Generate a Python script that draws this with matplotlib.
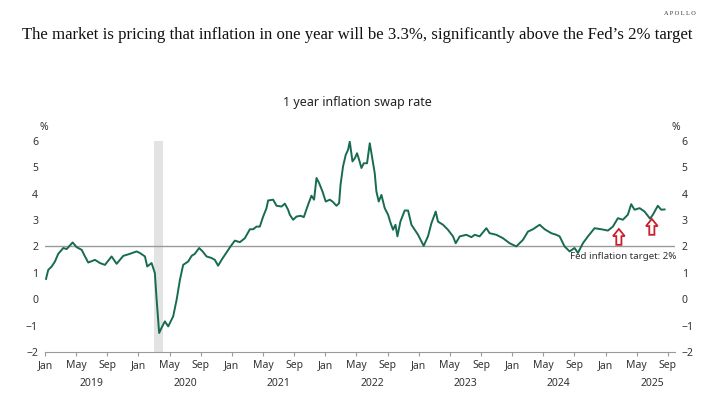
import matplotlib
matplotlib.use("Agg")
import matplotlib.pyplot as plt
import matplotlib.transforms as mtransforms
from matplotlib.patches import FancyArrow

# 1 year inflation swap rate, x in decimal years
t_year = [
    2019.011, 2019.035, 2019.072, 2019.107, 2019.142, 2019.196, 2019.232, 2019.296,
    2019.339, 2019.393, 2019.428, 2019.463, 2019.535, 2019.588, 2019.642, 2019.713,
    2019.767, 2019.837, 2019.909, 2019.981, 2020.016, 2020.070, 2020.094, 2020.141,
    2020.176, 2020.195, 2020.222, 2020.248, 2020.283, 2020.319, 2020.372, 2020.409,
    2020.444, 2020.479, 2020.533, 2020.569, 2020.604, 2020.650, 2020.687, 2020.729,
    2020.783, 2020.818, 2020.853, 2020.890, 2020.943, 2020.986, 2021.032, 2021.086,
    2021.139, 2021.193, 2021.228, 2021.264, 2021.299, 2021.335, 2021.371, 2021.388,
    2021.442, 2021.478, 2021.532, 2021.567, 2021.602, 2021.620, 2021.656, 2021.692,
    2021.735, 2021.770, 2021.816, 2021.852, 2021.880, 2021.906, 2021.934, 2021.970,
    2022.005, 2022.048, 2022.077, 2022.120, 2022.148, 2022.163, 2022.190, 2022.219,
    2022.244, 2022.262, 2022.291, 2022.316, 2022.340, 2022.362, 2022.387, 2022.412,
    2022.447, 2022.476, 2022.505, 2022.529, 2022.547, 2022.572, 2022.601, 2022.636,
    2022.672, 2022.697, 2022.725, 2022.751, 2022.772, 2022.804, 2022.850, 2022.886,
    2022.922, 2022.957, 2022.993, 2023.053, 2023.099, 2023.136, 2023.182, 2023.206,
    2023.260, 2023.313, 2023.367, 2023.396, 2023.439, 2023.510, 2023.564, 2023.599,
    2023.652, 2023.724, 2023.759, 2023.831, 2023.902, 2023.973, 2024.045, 2024.116,
    2024.169, 2024.222, 2024.294, 2024.348, 2024.419, 2024.473, 2024.508, 2024.561,
    2024.615, 2024.668, 2024.704, 2024.757, 2024.811, 2024.882, 2024.954, 2025.025,
    2025.078, 2025.132, 2025.185, 2025.238, 2025.274, 2025.310, 2025.364, 2025.417,
    2025.476, 2025.506, 2025.559, 2025.595, 2025.631,
]
swap_rate = [
    0.77, 1.11, 1.24, 1.43, 1.72, 1.94, 1.90, 2.15,
    1.97, 1.87, 1.62, 1.39, 1.49, 1.37, 1.30, 1.62,
    1.34, 1.64, 1.72, 1.81, 1.75, 1.62, 1.24, 1.37,
    0.99, -0.02, -1.28, -1.08, -0.84, -1.03, -0.65, -0.02,
    0.73, 1.30, 1.43, 1.64, 1.72, 1.94, 1.81, 1.62,
    1.56, 1.49, 1.27, 1.49, 1.77, 2.00, 2.22, 2.16,
    2.31, 2.65, 2.65, 2.75, 2.75, 3.13, 3.45, 3.74,
    3.77, 3.54, 3.51, 3.62, 3.39, 3.20, 3.01, 3.13,
    3.16, 3.11, 3.58, 3.92, 3.77, 4.59, 4.40, 4.08,
    3.70, 3.77, 3.70, 3.54, 3.64, 4.33, 5.03, 5.47,
    5.66, 5.97, 5.22, 5.34, 5.53, 5.28, 4.97, 5.15,
    5.15, 5.91, 5.28, 4.78, 4.08, 3.70, 3.95, 3.45,
    3.20, 2.91, 2.63, 2.82, 2.38, 2.94, 3.36, 3.36,
    2.82, 2.63, 2.44, 2.02, 2.38, 2.88, 3.32, 2.94,
    2.82, 2.63, 2.38, 2.12, 2.38, 2.44, 2.35, 2.44,
    2.38, 2.69, 2.50, 2.44, 2.31, 2.12, 2.00, 2.25,
    2.56, 2.65, 2.82, 2.65, 2.50, 2.44, 2.38, 2.00,
    1.81, 1.94, 1.75, 2.12, 2.38, 2.69, 2.65, 2.60,
    2.75, 3.07, 3.01, 3.20, 3.60, 3.39, 3.45, 3.32,
    3.05, 3.20, 3.54, 3.39, 3.40,
]

years = [2019, 2020, 2021, 2022, 2023, 2024, 2025]
month_names = {1: 'Jan', 5: 'May', 9: 'Sep'}
recession = (2020.163, 2020.262)
fed_target = 2
arrow_x = [2025.142, 2025.495]
arrow_base = [2.06, 2.44]

line_color = '#176b52'
grey = '#9a9a9a'
text_color = '#333333'
sans = ['Noto Sans', 'DejaVu Sans']

fig = plt.figure(figsize=(7.14, 3.94), dpi=100)
ax = fig.add_axes([0.063, 0.1066, 0.882, 0.536])

ax.axvspan(recession[0], recession[1], ymin=0, ymax=1, color='#e3e3e3', lw=0, zorder=0)
ax.axhline(fed_target, color=grey, lw=1, zorder=1)
ax.plot(t_year, swap_rate, color=line_color, lw=1.4, zorder=3)

# red hollow arrows
for xa, ya in zip(arrow_x, arrow_base):
    ax.add_patch(FancyArrow(xa, ya, 0, 0.6, width=0.055, head_width=0.125, head_length=0.27,
                            length_includes_head=True, fc='white', ec='#c8202f', lw=1.3, zorder=4))

ax.set_xlim(2019.0, 2025.74)
ax.set_ylim(-2, 6)

ticks, labels = [], []
for y in years:
    for m in (1, 5, 9):
        ticks.append(y + (m - 1) / 12)
        labels.append(month_names[m])
ax.set_xticks(ticks, labels)
ax.set_yticks(range(-2, 7))
ax.tick_params(axis='x', length=3, color=grey, labelsize=7.5, labelcolor=text_color, pad=3)
ax.tick_params(axis='y', length=0, labelsize=7.5, labelcolor=text_color, pad=5,
               labelleft=True, labelright=True)
for lab in ax.get_xticklabels() + ax.get_yticklabels():
    lab.set_family(sans)

for s in ['top', 'left', 'right']:
    ax.spines[s].set_visible(False)
ax.spines['bottom'].set_color(grey)

trans_x = mtransforms.blended_transform_factory(ax.transData, ax.transAxes)
trans_y = mtransforms.blended_transform_factory(ax.transAxes, ax.transData)
for y in years:
    ax.text(y + 0.5, -0.125, str(y), transform=trans_x, ha='center', va='top',
            fontsize=7.5, color=text_color, family=sans)

ax.text(-0.002, 1.065, '%', transform=ax.transAxes, ha='center', va='center',
        fontsize=7.5, color=text_color, family=sans)
ax.text(1.002, 1.065, '%', transform=ax.transAxes, ha='center', va='center',
        fontsize=7.5, color=text_color, family=sans)
ax.text(1.003, 1.62, 'Fed inflation target: 2%', transform=trans_y, ha='right', va='center',
        fontsize=7, color=text_color, family=sans)

fig.text(0.5, 0.739, '1 year inflation swap rate', ha='center', va='center',
         fontsize=9, color='#222222', family=sans)
fig.text(0.5, 0.912, "The market is pricing that inflation in one year will be 3.3%, significantly above the Fed\u2019s 2% target",
         ha='center', va='center', fontsize=12.1, color='#111111', family=['Liberation Serif', 'DejaVu Serif'])
fig.text(0.975, 0.966, 'A P O L L O', ha='right', va='center', fontsize=4.5, color='#333333',
         family=['Liberation Serif', 'DejaVu Serif'])

fig.savefig('out.png', dpi=100)
